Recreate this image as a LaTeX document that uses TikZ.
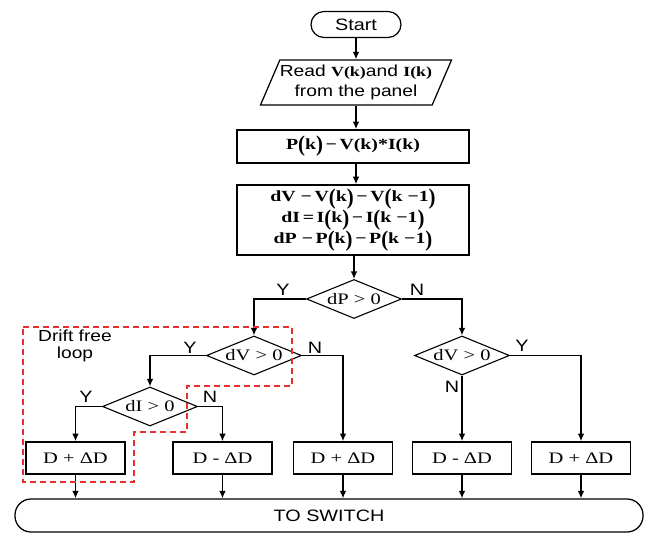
\documentclass[tikz,border=0pt]{standalone}
\usepackage{graphicx}
\usepackage{fontspec}
\setmainfont{Liberation Sans}[FakeStretch=1.2]
\newfontfamily\eqfont{Liberation Serif}[FakeStretch=1.28]
\usetikzlibrary{shapes.geometric,arrows.meta}
\definecolor{loopred}{RGB}{232,48,48}
\newcommand\blp{\raisebox{-0.18em}{\scalebox{1.05}[1.45]{(}}}
\newcommand\brp{\raisebox{-0.18em}{\scalebox{1.05}[1.45]{)}}}
\begin{document}
\begin{tikzpicture}[x=1pt,y=-1pt,
  ln/.style={line width=1.25pt},
  bx/.style={line width=1.6pt},
  arr/.style={ln,-{Latex[length=7.5pt,width=6.5pt]}},
  eqf/.style={font=\eqfont\bfseries\fontsize{15.5}{21}\selectfont},
  rgf/.style={font=\eqfont\fontsize{16}{20}\selectfont},
  procbox/.style={draw,bx,inner sep=0pt,minimum width=232pt,align=center,eqf},
  dbox/.style={draw,bx,inner sep=0pt,minimum width=99pt,minimum height=32pt,rgf},
  dec/.style={draw,diamond,line width=1.1pt,aspect=2.4,inner sep=0pt,minimum width=95pt,minimum height=39pt,rgf},
  lab/.style={font=\fontsize{16.5}{19}\selectfont},
  term/.style={draw,ln,rounded corners=13pt,inner sep=0pt,font=\fontsize{16.5}{19}\selectfont}]
\useasboundingbox (0,0) rectangle (651,533);

\node[term,minimum width=90pt,minimum height=26pt] (start) at (356,24.5) {Start};
\node[draw,ln,trapezium,trapezium left angle=61,trapezium right angle=119,trapezium stretches body,
      minimum width=180pt,minimum height=45pt,inner sep=0pt,align=center,font=\fontsize{16}{20}\selectfont]
      (read) at (356,82.5) {Read {\eqfont\bfseries\fontsize{14}{16}\selectfont V(k)}and {\eqfont\bfseries\fontsize{14}{16}\selectfont I(k)}\\from the panel};
\node[procbox,minimum height=33pt] (pk) at (353,146.5) {P\blp k\brp\,−\,V(k)*I(k)};
\node[procbox,minimum height=70pt] (diff) at (353,220)
  {dV −\,V\blp k\brp\,−\,V\blp k −1\brp\\dI\,=\,I\blp k\brp\,−\,I\blp k −1\brp\\dP −\,P\blp k\brp\,−\,P\blp k −1\brp};

\node[dec] (dP) at (354,299) {dP \textgreater\ 0};
\node[dec] (dV1) at (254,355.5) {dV \textgreater\ 0};
\node[dec] (dI) at (150,406.5) {dI \textgreater\ 0};
\node[dec] (dV2) at (462,355.5) {dV \textgreater\ 0};

\node[dbox] (b1) at (75.5,458) {D + ΔD};
\node[dbox] (b2) at (222.5,458) {D - ΔD};
\node[dbox] (b3) at (343,458) {D + ΔD};
\node[dbox] (b4) at (462,458) {D - ΔD};
\node[dbox] (b5) at (581,458) {D + ΔD};

\node[term,rounded corners=16pt,minimum width=628pt,minimum height=33pt] (sw) at (329,515.5) {TO SWITCH};

\draw[arr] (start) -- (read);
\draw[arr] (read.south) -- (read.south |- pk.north);
\draw[arr] (pk.south -| read.south) -- (read.south |- diff.north);
\draw[arr] (diff.south -| dP.north) -- (dP.north);

\draw[arr] (dP.west) -| (dV1.north);
\draw[arr] (dP.east) -| (dV2.north);
\draw[arr] (dV1.west) -| (dI.north);
\draw[arr] (dV1.east) -| (b3.north);
\draw[arr] (dI.west) -| (b1.north);
\draw[arr] (dI.east) -| (b2.north);
\draw[arr] (dV2.east) -| (b5.north);
\draw[arr] (dV2.south) -- (b4.north);

\foreach \b in {b1,b2,b3,b4,b5}
  \draw[arr] (\b.south) -- (\b.south |- sw.north);

\node[lab] (y1) at (283,290) {Y};
\node[lab] (n1) at (417,290) {N};
\node[lab] (y2) at (190,348) {Y};
\node[lab] (n2) at (315,348) {N};
\node[lab] (y3) at (86,397) {Y};
\node[lab] (n3) at (210,397) {N};
\node[lab] (y4) at (522,346) {Y};
\node[lab] (n4) at (452,387) {N};

\draw[loopred,line width=1.2pt,dash pattern=on 6pt off 4pt]
  (23,327) -- (292,327) -- (292,386) -- (187,386) -- (187,432) -- (134,432) -- (134,482) -- (23,482) -- cycle;
\node[lab,align=center,font=\fontsize{16}{17}\selectfont] (drift) at (75,346) {Drift free\\loop};
\end{tikzpicture}
\end{document}
